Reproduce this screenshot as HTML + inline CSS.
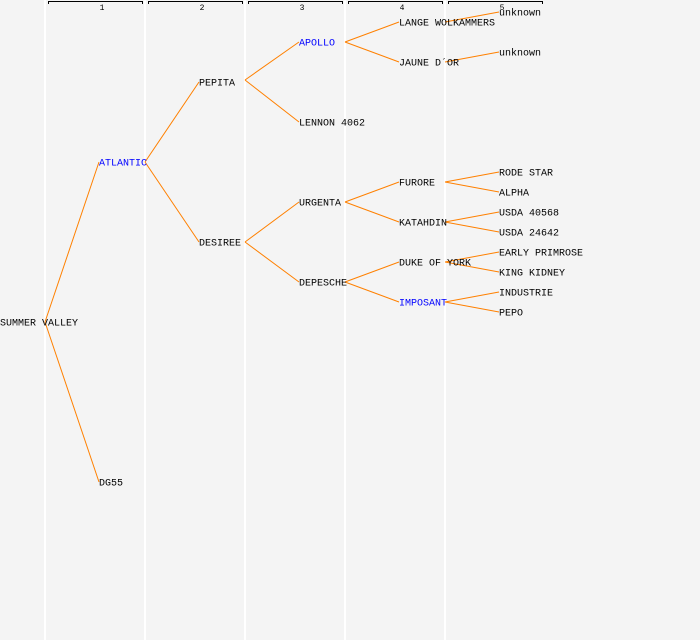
<!DOCTYPE html>
<html><head><style>body{margin:0;background:#f4f4f4}svg{display:block}</style></head><body>
<svg width="700" height="640" xmlns="http://www.w3.org/2000/svg" font-family="Liberation Mono, DejaVu Sans Mono, monospace" font-size="10">
<rect width="700" height="640" fill="#f4f4f4"/>
<g fill="#ffffff">
<rect x="44" y="0" width="2" height="640"/><rect x="144" y="0" width="2" height="640"/><rect x="244" y="0" width="2" height="640"/><rect x="344" y="0" width="2" height="640"/><rect x="444" y="0" width="2" height="640"/>
</g>
<g stroke="#000" fill="none" stroke-width="1">
<path d="M48.5 4V1.5H142.5V4"/><path d="M148.5 4V1.5H242.5V4"/><path d="M248.5 4V1.5H342.5V4"/><path d="M348.5 4V1.5H442.5V4"/><path d="M448.5 4V1.5H542.5V4"/>
</g>
<g font-size="8" text-anchor="middle" fill="#000">
<text x="102" y="10">1</text><text x="202" y="10">2</text><text x="302" y="10">3</text><text x="402" y="10">4</text><text x="502" y="10">5</text>
</g>
<g stroke="#ff8000" stroke-width="1" fill="none">
<path d="M45 322L99 162M45 322L99 482"/>
<path d="M145 162L199 82M145 162L199 242"/>
<path d="M245 80L299 42M245 80L299 122"/>
<path d="M345 42L399 22M345 42L399 62"/>
<path d="M445 22L499 12M445 62L499 52"/>
<path d="M245 242L299 202M245 242L299 282"/>
<path d="M345 202L399 182M345 202L399 222"/>
<path d="M345 282L399 262M345 282L399 302"/>
<path d="M445 182L499 172M445 182L499 192"/>
<path d="M445 222L499 212M445 222L499 232"/>
<path d="M445 262L499 252M445 262L499 272"/>
<path d="M445 302L499 292M445 302L499 312"/>
</g>
<g fill="#000" dominant-baseline="middle" transform="translate(0,1)">
<text x="0" y="322">SUMMER VALLEY</text>
<text x="99" y="162" fill="#0000ff">ATLANTIC</text>
<text x="99" y="482">DG55</text>
<text x="199" y="82">PEPITA</text>
<text x="199" y="242">DESIREE</text>
<text x="299" y="42" fill="#0000ff">APOLLO</text>
<text x="299" y="122">LENNON 4062</text>
<text x="299" y="202">URGENTA</text>
<text x="299" y="282">DEPESCHE</text>
<text x="399" y="22">LANGE WOLKAMMERS</text>
<text x="399" y="62">JAUNE D´OR</text>
<text x="399" y="182">FURORE</text>
<text x="399" y="222">KATAHDIN</text>
<text x="399" y="262">DUKE OF YORK</text>
<text x="399" y="302" fill="#0000ff">IMPOSANT</text>
<text x="499" y="12">unknown</text>
<text x="499" y="52">unknown</text>
<text x="499" y="172">RODE STAR</text>
<text x="499" y="192">ALPHA</text>
<text x="499" y="212">USDA 40568</text>
<text x="499" y="232">USDA 24642</text>
<text x="499" y="252">EARLY PRIMROSE</text>
<text x="499" y="272">KING KIDNEY</text>
<text x="499" y="292">INDUSTRIE</text>
<text x="499" y="312">PEPO</text>
</g>
</svg>
</body></html>
